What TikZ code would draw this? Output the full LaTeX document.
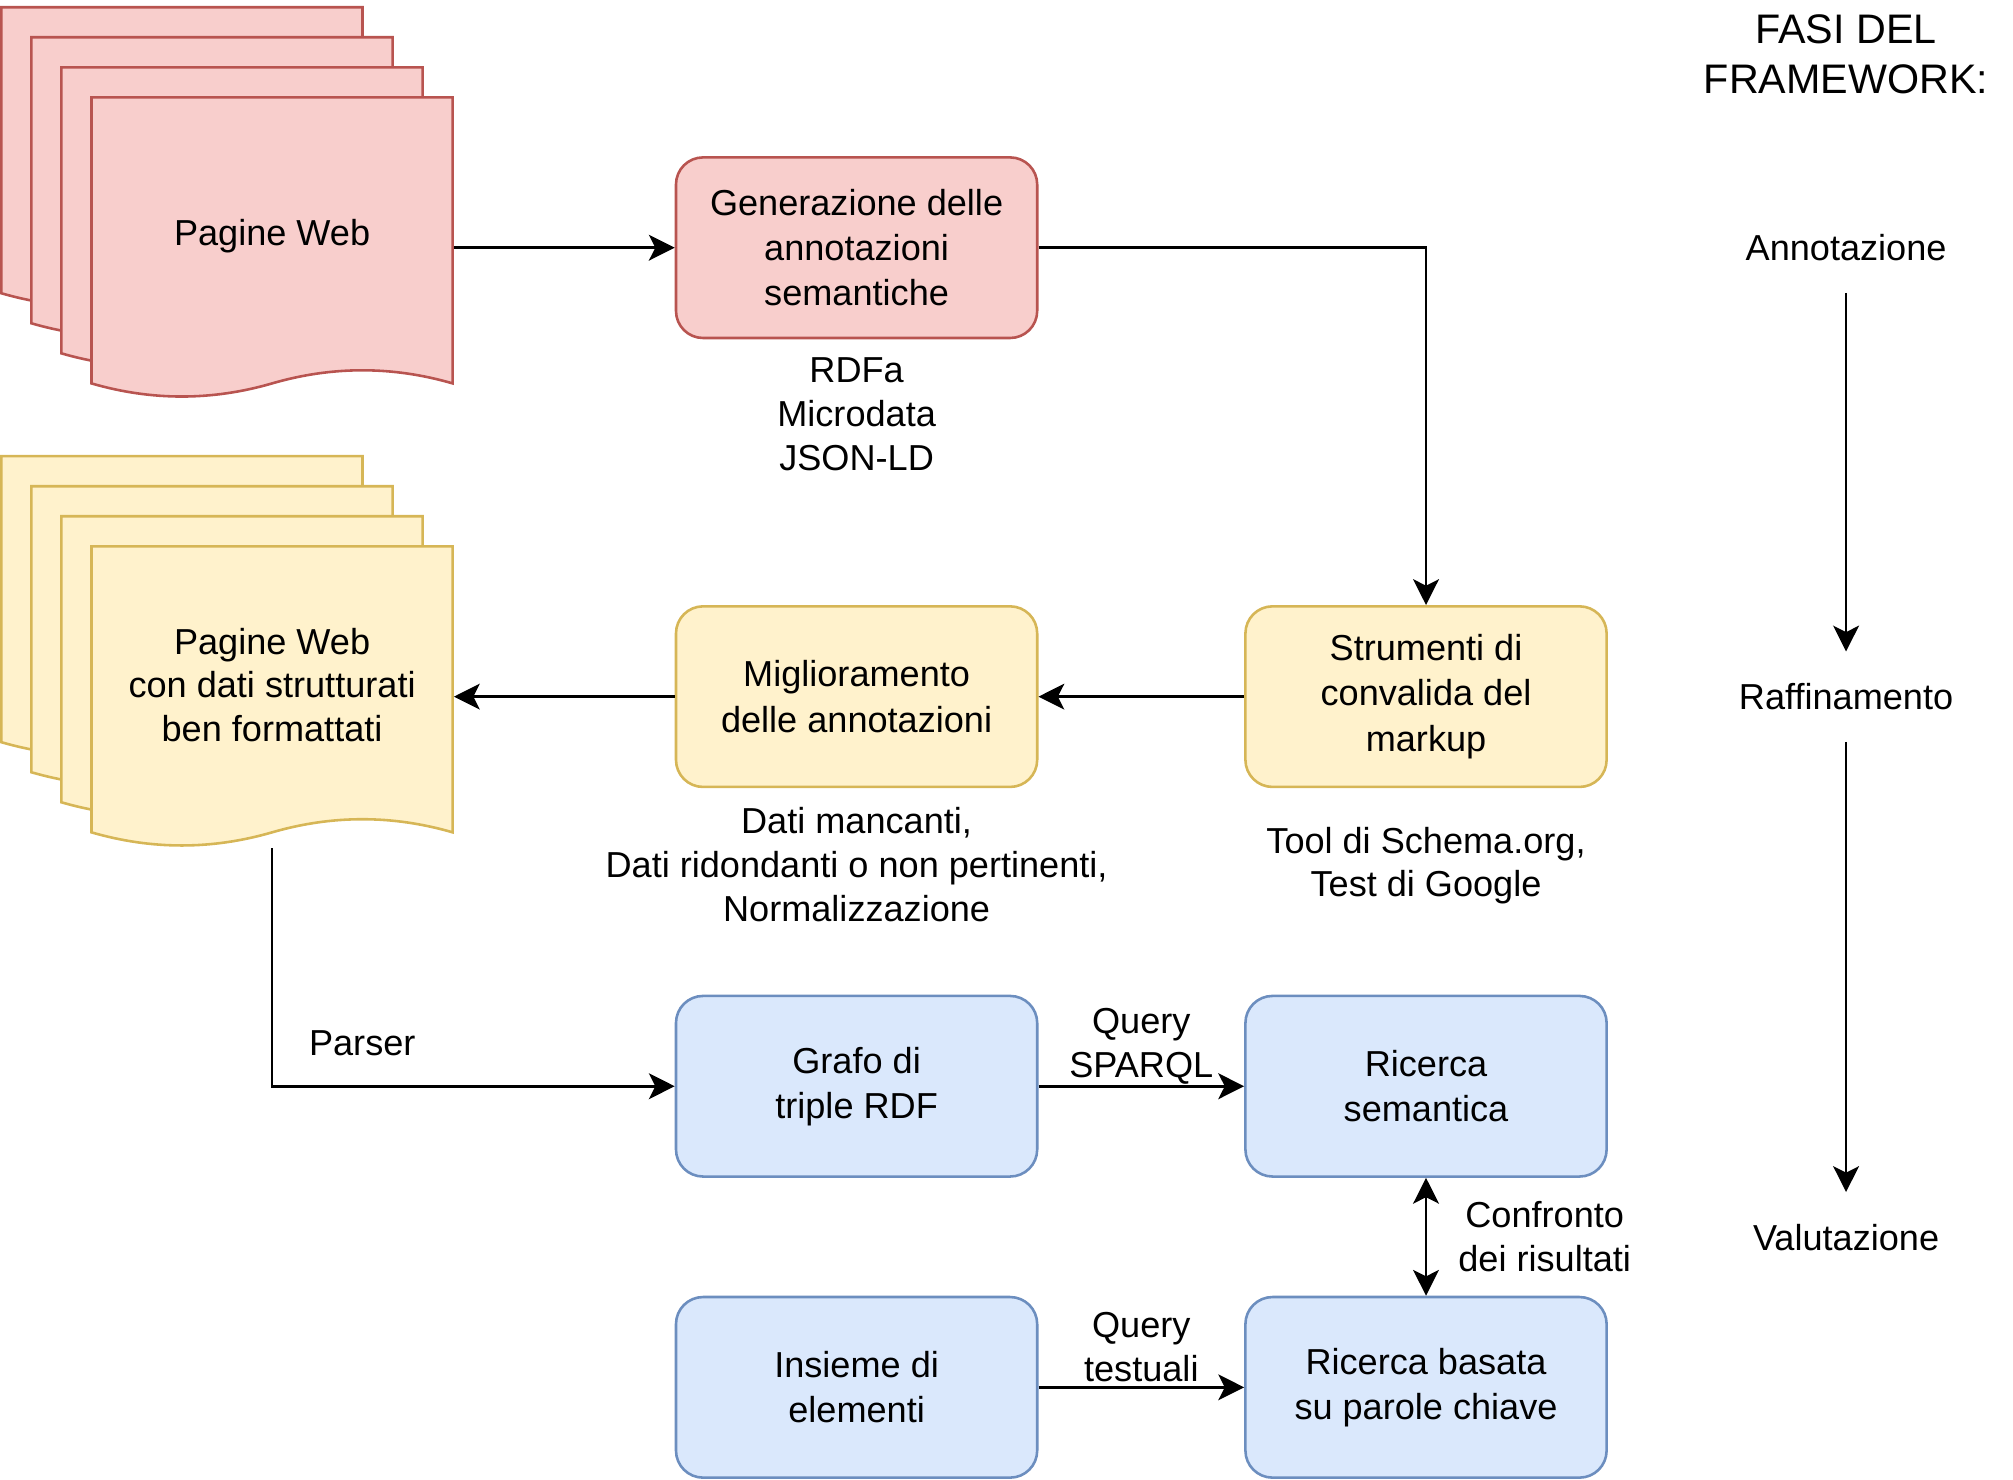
\documentclass[tikz,border=0pt]{standalone}
\usepackage{fontspec}
\setmainfont{Liberation Sans}
\usetikzlibrary{arrows.meta}

\definecolor{redfill}{HTML}{F8CECC}
\definecolor{redline}{HTML}{B85450}
\definecolor{yelfill}{HTML}{FFF2CC}
\definecolor{yelline}{HTML}{D6B656}
\definecolor{blufill}{HTML}{DAE8FC}
\definecolor{bluline}{HTML}{6C8EBF}

\tikzset{
  webpage/.pic={
    \path[pic actions] (0,0) -- (140,0) -- (140,110.85)
      .. controls (116.67,104.07) and (93.33,104.07) .. (70,110.85)
      .. controls (46.67,117.63) and (23.33,117.63) .. (0,110.85) -- cycle;
  },
  pagebox/.style={minimum width=140pt, minimum height=116.5pt, inner sep=0pt},
  pagetxt/.style={font=\fontsize{14}{17}\selectfont, align=center, yshift=4.5pt},
  box/.style={draw, rounded corners=10.5pt, minimum width=140pt, minimum height=70pt,
    align=center, font=\fontsize{14}{17.5}\selectfont},
  redbox/.style={box, fill=redfill, draw=redline},
  yelbox/.style={box, fill=yelfill, draw=yelline},
  blubox/.style={box, fill=blufill, draw=bluline},
  note/.style={font=\fontsize{14}{17}\selectfont, align=center},
  phase/.style={font=\fontsize{14}{17}\selectfont, minimum height=34pt, inner sep=0pt},
  arr/.style={-{Stealth[length=10pt,width=10pt,inset=2.5pt]}},
  darr/.style={{Stealth[length=10pt,width=10pt,inset=2.5pt]}-{Stealth[length=10pt,width=10pt,inset=2.5pt]}}
}

\begin{document}
\begin{tikzpicture}[x=1pt, y=-1pt, line width=1pt]
\useasboundingbox (0,0) rectangle (780.2,573.3);

% stacks of web pages
\foreach \i in {0,...,3}
  \pic[draw=redline, fill=redfill] at (0.5+11.65*\i, 2.8+11.65*\i) {webpage};
\foreach \i in {0,...,3}
  \pic[draw=yelline, fill=yelfill] at (0.5+11.65*\i, 176.8+11.65*\i) {webpage};
\node[pagebox, label={[pagetxt]center:Pagine Web}] (redpg) at (105.45, 96) {};
\node[pagebox, label={[pagetxt]center:{Pagine Web\\con dati strutturati\\ben formattati}}] (yelpg) at (105.45, 270) {};

% boxes
\node[redbox] (gen) at (332, 96) {Generazione delle\\annotazioni\\semantiche};
\node[yelbox] (strum) at (552.7, 270) {Strumenti di\\convalida del\\markup};
\node[yelbox] (migl) at (332, 270) {Miglioramento\\delle annotazioni};
\node[blubox] (grafo) at (332, 421) {Grafo di\\triple RDF};
\node[blubox] (ricsem) at (552.7, 421) {Ricerca\\semantica};
\node[blubox] (insieme) at (332, 537.7) {Insieme di\\elementi};
\node[blubox] (ricpar) at (552.7, 537.7) {Ricerca basata\\su parole chiave};

% notes under the boxes
\node[note] (formati) at (332, 160.5) {RDFa\\Microdata\\JSON-LD};
\node[note] (problemi) at (332, 335) {Dati mancanti,\\Dati ridondanti o non pertinenti,\\Normalizzazione};
\node[note] (tool) at (552.7, 335.5) {Tool di Schema.org,\\Test di Google};

% connectors
\draw[arr] (redpg) -- (gen);
\draw[arr] (gen) -| (strum);
\draw[arr] (strum) -- (migl);
\draw[arr] (migl) -- (yelpg);
\draw[arr] (yelpg.south) |- node[note, pos=0.612, yshift=16.5pt] (parser) {Parser} (grafo);
\draw[arr] (grafo) -- node[note, yshift=15.5pt] (qsparql) {Query\\SPARQL} (ricsem);
\draw[arr] (insieme) -- node[note, yshift=15.5pt] (qtesto) {Query\\testuali} (ricpar);
\draw[darr] (ricsem) -- node[note, xshift=46pt] (confronto) {Confronto\\dei risultati} (ricpar);

% phases
\node[note, font=\fontsize{16}{19.5}\selectfont] (fasi) at (715.5, 21) {FASI DEL\\FRAMEWORK:};
\node[phase] (ann) at (715.5, 96) {Annotazione};
\node[phase] (raf) at (715.5, 270) {Raffinamento};
\node[phase] (val) at (715.5, 479.5) {Valutazione};
\draw[arr] (ann) -- (raf);
\draw[arr] (raf) -- (val);
\end{tikzpicture}
\end{document}
